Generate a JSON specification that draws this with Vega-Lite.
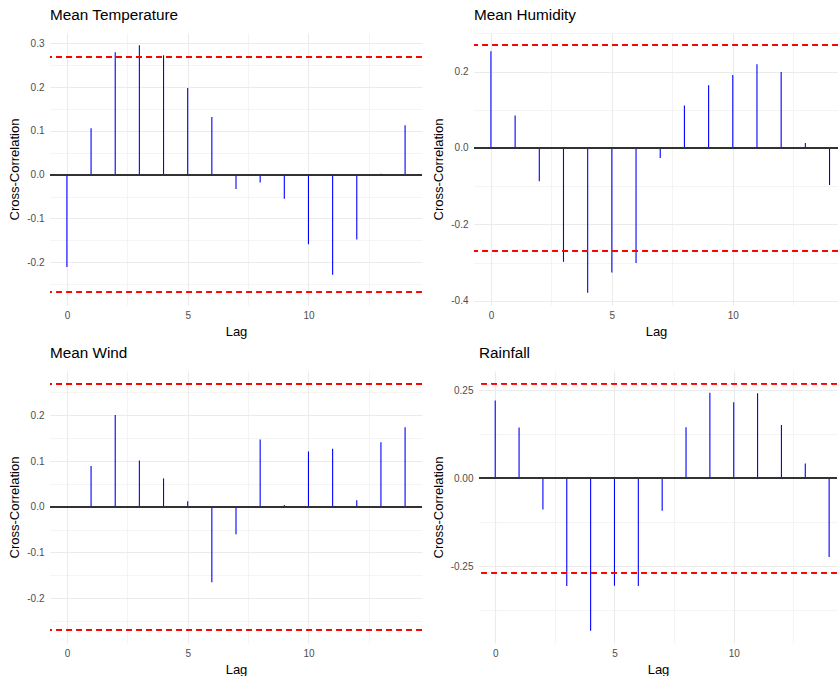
{
  "$schema": "https://vega.github.io/schema/vega-lite/v6.json",
  "padding": {"left": 8, "top": 8, "right": 0, "bottom": 0},
  "background": "white",
  "config": {
    "view": {"stroke": null},
    "font": "Liberation Sans",
    "title": {"anchor": "start", "frame": "group", "fontSize": 15.3, "fontWeight": "normal", "color": "#000000", "offset": 9.7, "baseline": "alphabetic", "font": "Liberation Sans"},
    "axis": {
      "domain": false, "ticks": false, "tickSize": 0,
      "labelFont": "Liberation Sans", "labelFontSize": 10, "labelColor": "#4D4D4D",
      "titleFont": "Liberation Sans", "titleFontSize": 13, "titleFontWeight": "normal", "titleColor": "#000000",
      "gridColor": "#EBEBEB"
    },
    "axisY": {"labelPadding": 6, "titlePadding": 5},
    "axisX": {"labelPadding": 5, "titlePadding": 5}
  },
  "data": {"values": [
    {"v": "Mean Temperature", "lag": 0, "ccf": -0.211},
    {"v": "Mean Temperature", "lag": 1, "ccf": 0.106},
    {"v": "Mean Temperature", "lag": 2, "ccf": 0.280},
    {"v": "Mean Temperature", "lag": 3, "ccf": 0.296},
    {"v": "Mean Temperature", "lag": 4, "ccf": 0.273},
    {"v": "Mean Temperature", "lag": 5, "ccf": 0.198},
    {"v": "Mean Temperature", "lag": 6, "ccf": 0.132},
    {"v": "Mean Temperature", "lag": 7, "ccf": -0.033},
    {"v": "Mean Temperature", "lag": 8, "ccf": -0.018},
    {"v": "Mean Temperature", "lag": 9, "ccf": -0.055},
    {"v": "Mean Temperature", "lag": 10, "ccf": -0.159},
    {"v": "Mean Temperature", "lag": 11, "ccf": -0.229},
    {"v": "Mean Temperature", "lag": 12, "ccf": -0.148},
    {"v": "Mean Temperature", "lag": 13, "ccf": 0.002},
    {"v": "Mean Temperature", "lag": 14, "ccf": 0.113},
    {"v": "Mean Humidity", "lag": 0, "ccf": 0.253},
    {"v": "Mean Humidity", "lag": 1, "ccf": 0.085},
    {"v": "Mean Humidity", "lag": 2, "ccf": -0.087},
    {"v": "Mean Humidity", "lag": 3, "ccf": -0.298},
    {"v": "Mean Humidity", "lag": 4, "ccf": -0.379},
    {"v": "Mean Humidity", "lag": 5, "ccf": -0.326},
    {"v": "Mean Humidity", "lag": 6, "ccf": -0.301},
    {"v": "Mean Humidity", "lag": 7, "ccf": -0.026},
    {"v": "Mean Humidity", "lag": 8, "ccf": 0.111},
    {"v": "Mean Humidity", "lag": 9, "ccf": 0.164},
    {"v": "Mean Humidity", "lag": 10, "ccf": 0.191},
    {"v": "Mean Humidity", "lag": 11, "ccf": 0.219},
    {"v": "Mean Humidity", "lag": 12, "ccf": 0.199},
    {"v": "Mean Humidity", "lag": 13, "ccf": 0.013},
    {"v": "Mean Humidity", "lag": 14, "ccf": -0.097},
    {"v": "Mean Wind", "lag": 0, "ccf": 0.0},
    {"v": "Mean Wind", "lag": 1, "ccf": 0.089},
    {"v": "Mean Wind", "lag": 2, "ccf": 0.201},
    {"v": "Mean Wind", "lag": 3, "ccf": 0.101},
    {"v": "Mean Wind", "lag": 4, "ccf": 0.062},
    {"v": "Mean Wind", "lag": 5, "ccf": 0.012},
    {"v": "Mean Wind", "lag": 6, "ccf": -0.165},
    {"v": "Mean Wind", "lag": 7, "ccf": -0.060},
    {"v": "Mean Wind", "lag": 8, "ccf": 0.147},
    {"v": "Mean Wind", "lag": 9, "ccf": 0.004},
    {"v": "Mean Wind", "lag": 10, "ccf": 0.121},
    {"v": "Mean Wind", "lag": 11, "ccf": 0.127},
    {"v": "Mean Wind", "lag": 12, "ccf": 0.014},
    {"v": "Mean Wind", "lag": 13, "ccf": 0.141},
    {"v": "Mean Wind", "lag": 14, "ccf": 0.174},
    {"v": "Rainfall", "lag": 0, "ccf": 0.221},
    {"v": "Rainfall", "lag": 1, "ccf": 0.144},
    {"v": "Rainfall", "lag": 2, "ccf": -0.089},
    {"v": "Rainfall", "lag": 3, "ccf": -0.307},
    {"v": "Rainfall", "lag": 4, "ccf": -0.434},
    {"v": "Rainfall", "lag": 5, "ccf": -0.306},
    {"v": "Rainfall", "lag": 6, "ccf": -0.307},
    {"v": "Rainfall", "lag": 7, "ccf": -0.093},
    {"v": "Rainfall", "lag": 8, "ccf": 0.145},
    {"v": "Rainfall", "lag": 9, "ccf": 0.243},
    {"v": "Rainfall", "lag": 10, "ccf": 0.216},
    {"v": "Rainfall", "lag": 11, "ccf": 0.242},
    {"v": "Rainfall", "lag": 12, "ccf": 0.151},
    {"v": "Rainfall", "lag": 13, "ccf": 0.042},
    {"v": "Rainfall", "lag": 14, "ccf": -0.224}
  ]},
  "spacing": 8,
  "vconcat": [
    {
      "spacing": 9,
      "hconcat": [
        {
          "title": "Mean Temperature",
          "width": 372, "height": 272,
          "transform": [{"filter": "datum.v === 'Mean Temperature'"}],
          "encoding": {
            "x": {"field": "lag", "type": "quantitative", "title": "Lag",
              "scale": {"domain": [-0.7, 14.7], "nice": false, "zero": false},
              "axis": {"values": [0, 2.5, 5, 7.5, 10, 12.5], "labelExpr": "datum.value % 5 == 0 ? datum.label : ''",
                "gridWidth": {"condition": {"test": "datum.value % 5 == 0", "value": 1.1}, "value": 0.55}}},
            "y": {"field": "ccf", "type": "quantitative", "title": "Cross-Correlation",
              "scale": {"domain": [-0.298, 0.324], "nice": false, "zero": false},
              "axis": {"values": [-0.25, -0.2, -0.15, -0.1, -0.05, 0, 0.05, 0.1, 0.15, 0.2, 0.25, 0.3],
                "labelExpr": "abs(datum.value*10 - round(datum.value*10)) < 0.000001 ? replace(format(datum.value, '.1f'), '\u2212', '-') : ''",
                "gridWidth": {"condition": {"test": "abs(datum.value*10 - round(datum.value*10)) < 0.000001", "value": 1.1}, "value": 0.55}}}
          },
          "layer": [
            {"mark": {"type": "rule", "color": "#0000FF", "strokeWidth": 1.1}, "encoding": {"y2": {"datum": 0}}},
            {"mark": {"type": "rule", "color": "#333333", "strokeWidth": 1.2}, "encoding": {"x": null, "y": {"datum": 0}}},
            {"mark": {"type": "rule", "color": "#FF0000", "strokeWidth": 1, "strokeDash": [5.5, 4.5]}, "encoding": {"x": null, "y": {"datum": 0.269}}},
            {"mark": {"type": "rule", "color": "#FF0000", "strokeWidth": 1, "strokeDash": [5.5, 4.5]}, "encoding": {"x": null, "y": {"datum": -0.269}}}
          ]
        },
        {
          "title": "Mean Humidity",
          "width": 364, "height": 272,
          "transform": [{"filter": "datum.v === 'Mean Humidity'"}],
          "encoding": {
            "x": {"field": "lag", "type": "quantitative", "title": "Lag",
              "scale": {"domain": [-0.7, 14.35], "nice": false, "zero": false},
              "axis": {"values": [0, 2.5, 5, 7.5, 10, 12.5], "labelExpr": "datum.value % 5 == 0 ? datum.label : ''",
                "gridWidth": {"condition": {"test": "datum.value % 5 == 0", "value": 1.1}, "value": 0.55}}},
            "y": {"field": "ccf", "type": "quantitative", "title": "Cross-Correlation",
              "scale": {"domain": [-0.411, 0.301], "nice": false, "zero": false},
              "axis": {"values": [-0.4, -0.3, -0.2, -0.1, 0, 0.1, 0.2, 0.3],
                "labelExpr": "abs(datum.value*5 - round(datum.value*5)) < 0.000001 ? replace(format(datum.value, '.1f'), '\u2212', '-') : ''",
                "gridWidth": {"condition": {"test": "abs(datum.value*5 - round(datum.value*5)) < 0.000001", "value": 1.1}, "value": 0.55}}}
          },
          "layer": [
            {"mark": {"type": "rule", "color": "#0000FF", "strokeWidth": 1.1}, "encoding": {"y2": {"datum": 0}}},
            {"mark": {"type": "rule", "color": "#333333", "strokeWidth": 1.2}, "encoding": {"x": null, "y": {"datum": 0}}},
            {"mark": {"type": "rule", "color": "#FF0000", "strokeWidth": 1, "strokeDash": [5.5, 4.5]}, "encoding": {"x": null, "y": {"datum": 0.269}}},
            {"mark": {"type": "rule", "color": "#FF0000", "strokeWidth": 1, "strokeDash": [5.5, 4.5]}, "encoding": {"x": null, "y": {"datum": -0.269}}}
          ]
        }
      ]
    },
    {
      "spacing": 9,
      "hconcat": [
        {
          "title": "Mean Wind",
          "width": 372, "height": 272,
          "transform": [{"filter": "datum.v === 'Mean Wind'"}],
          "encoding": {
            "x": {"field": "lag", "type": "quantitative", "title": "Lag",
              "scale": {"domain": [-0.7, 14.7], "nice": false, "zero": false},
              "axis": {"values": [0, 2.5, 5, 7.5, 10, 12.5], "labelExpr": "datum.value % 5 == 0 ? datum.label : ''",
                "gridWidth": {"condition": {"test": "datum.value % 5 == 0", "value": 1.1}, "value": 0.55}}},
            "y": {"field": "ccf", "type": "quantitative", "title": "Cross-Correlation",
              "scale": {"domain": [-0.298, 0.297], "nice": false, "zero": false},
              "axis": {"values": [-0.25, -0.2, -0.15, -0.1, -0.05, 0, 0.05, 0.1, 0.15, 0.2, 0.25],
                "labelExpr": "abs(datum.value*10 - round(datum.value*10)) < 0.000001 ? replace(format(datum.value, '.1f'), '\u2212', '-') : ''",
                "gridWidth": {"condition": {"test": "abs(datum.value*10 - round(datum.value*10)) < 0.000001", "value": 1.1}, "value": 0.55}}}
          },
          "layer": [
            {"mark": {"type": "rule", "color": "#0000FF", "strokeWidth": 1.1}, "encoding": {"y2": {"datum": 0}}},
            {"mark": {"type": "rule", "color": "#333333", "strokeWidth": 1.2}, "encoding": {"x": null, "y": {"datum": 0}}},
            {"mark": {"type": "rule", "color": "#FF0000", "strokeWidth": 1, "strokeDash": [5.5, 4.5]}, "encoding": {"x": null, "y": {"datum": 0.269}}},
            {"mark": {"type": "rule", "color": "#FF0000", "strokeWidth": 1, "strokeDash": [5.5, 4.5]}, "encoding": {"x": null, "y": {"datum": -0.269}}}
          ]
        },
        {
          "title": "Rainfall",
          "width": 358, "height": 272,
          "transform": [{"filter": "datum.v === 'Rainfall'"}],
          "encoding": {
            "x": {"field": "lag", "type": "quantitative", "title": "Lag",
              "scale": {"domain": [-0.68, 14.33], "nice": false, "zero": false},
              "axis": {"values": [0, 2.5, 5, 7.5, 10, 12.5], "labelExpr": "datum.value % 5 == 0 ? datum.label : ''",
                "gridWidth": {"condition": {"test": "datum.value % 5 == 0", "value": 1.1}, "value": 0.55}}},
            "y": {"field": "ccf", "type": "quantitative", "title": "Cross-Correlation",
              "scale": {"domain": [-0.469, 0.305], "nice": false, "zero": false},
              "axis": {"values": [-0.375, -0.25, -0.125, 0, 0.125, 0.25],
                "labelExpr": "abs(datum.value*4 - round(datum.value*4)) < 0.000001 ? replace(format(datum.value, '.2f'), '\u2212', '-') : ''",
                "gridWidth": {"condition": {"test": "abs(datum.value*4 - round(datum.value*4)) < 0.000001", "value": 1.1}, "value": 0.55}}}
          },
          "layer": [
            {"mark": {"type": "rule", "color": "#0000FF", "strokeWidth": 1.1}, "encoding": {"y2": {"datum": 0}}},
            {"mark": {"type": "rule", "color": "#333333", "strokeWidth": 1.2}, "encoding": {"x": null, "y": {"datum": 0}}},
            {"mark": {"type": "rule", "color": "#FF0000", "strokeWidth": 1, "strokeDash": [5.5, 4.5]}, "encoding": {"x": null, "y": {"datum": 0.269}}},
            {"mark": {"type": "rule", "color": "#FF0000", "strokeWidth": 1, "strokeDash": [5.5, 4.5]}, "encoding": {"x": null, "y": {"datum": -0.269}}}
          ]
        }
      ]
    }
  ]
}
